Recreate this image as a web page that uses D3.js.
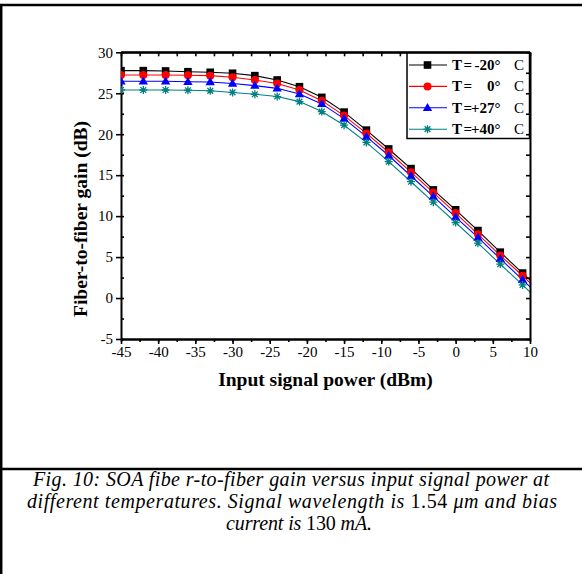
<!DOCTYPE html>
<html><head><meta charset="utf-8">
<script src="https://cdn.jsdelivr.net/npm/d3@7"></script>
<style>body{margin:0;background:#fff} svg{display:block}</style>
</head><body>
<script>
// ---- data ----
const inputPower = [-45,-42,-39,-36,-33,-30,-27,-24,-21,-18,-15,-12,-9,-6,-3,0,3,6,9,12];
const gainM20 = [27.76,27.76,27.72,27.63,27.56,27.44,27.15,26.62,25.8,24.5,22.7,20.5,18.2,15.8,13.2,10.77,8.24,5.6,3.05,0.5];
const gain0   = [27.23,27.23,27.23,27.2,27.15,26.95,26.62,26.2,25.4,24.1,22.27,20.1,17.8,15.37,12.88,10.37,7.8,5.2,2.72,0.15];
const gainP27 = [26.46,26.46,26.46,26.4,26.38,26.2,25.93,25.6,24.9,23.7,21.9,19.7,17.4,14.9,12.4,9.88,7.4,4.8,2.23,-0.35];
const gainP40 = [25.4,25.4,25.4,25.37,25.3,25.1,24.88,24.6,23.98,22.76,21.1,19.0,16.66,14.2,11.7,9.22,6.7,4.15,1.6,-0.95];
const legendTemps = ["-20°","0°","+27°","+40°"];
const xTickLabels = [-45,-40,-35,-30,-25,-20,-15,-10,-5,0,5,10];
const yTickLabels = [-5,0,5,10,15,20,25,30];
const xMinor = d3.range(-45,10.01,2.5);
const yMinor = d3.range(-5,30.01,2.5);

const series = [
  {name:legendTemps[0], values:gainM20, color:"#000000", marker:"square"},
  {name:legendTemps[1], values:gain0,   color:"#ff0000", marker:"circle"},
  {name:legendTemps[2], values:gainP27, color:"#0000ff", marker:"triangle"},
  {name:legendTemps[3], values:gainP40, color:"#008080", marker:"star"}
];

const W=582,H=574;
const svg = d3.select("body").append("svg").attr("width",W).attr("height",H);
const serif = "'Liberation Serif','Times New Roman',serif";

// outer frame
svg.append("line").attr("x1",0).attr("x2",W).attr("y1",5).attr("y2",5).attr("stroke","#000").attr("stroke-width",2.5);
svg.append("line").attr("x1",1.2).attr("x2",1.2).attr("y1",4).attr("y2",H).attr("stroke","#000").attr("stroke-width",2.5);
svg.append("line").attr("x1",0).attr("x2",W).attr("y1",469).attr("y2",469).attr("stroke","#000").attr("stroke-width",2.5);

const x = d3.scaleLinear().domain([-45,10]).range([121,530]);
const y = d3.scaleLinear().domain([-5,30]).range([339,52.3]);
const [x0,x1] = x.range(), [y0,y1] = y.range();

svg.append("defs").append("clipPath").attr("id","plotclip")
  .append("rect").attr("x",x0).attr("y",y1).attr("width",x1-x0).attr("height",y0-y1);

function styleAxis(g, fs){
  g.selectAll(".domain").attr("stroke","#000").attr("stroke-width",2);
  g.selectAll(".tick line").attr("stroke","#000").attr("stroke-width",1.6);
  g.selectAll("text").attr("font-family",serif).attr("font-size",fs).attr("fill","#000");
}
// bottom axis
const gb = svg.append("g").attr("transform",`translate(0,${y0})`)
  .call(d3.axisBottom(x).tickValues(xMinor).tickSize(3).tickSizeOuter(0).tickFormat(""));
styleAxis(gb,15);
const gb2 = svg.append("g").attr("transform",`translate(0,${y0})`)
  .call(d3.axisBottom(x).tickValues(xTickLabels).tickSize(5).tickSizeOuter(0).tickPadding(2).tickFormat(d=>String(d)));
styleAxis(gb2,15);
// top axis
const gt = svg.append("g").attr("transform",`translate(0,${y1})`)
  .call(d3.axisTop(x).tickValues(xMinor).tickSize(-4).tickSizeOuter(0).tickFormat(""));
styleAxis(gt,15);
// left axis
const gl = svg.append("g").attr("transform",`translate(${x0},0)`)
  .call(d3.axisLeft(y).tickValues(yMinor).tickSize(-3).tickSizeOuter(0).tickFormat(""));
styleAxis(gl,15);
const gl2 = svg.append("g").attr("transform",`translate(${x0},0)`)
  .call(d3.axisLeft(y).tickValues(yTickLabels).tickSize(5).tickSizeOuter(0).tickPadding(3).tickFormat(d=>String(d)));
styleAxis(gl2,15);
gl2.select(".domain").remove();

// series lines and markers
const plot = svg.append("g").attr("clip-path","url(#plotclip)");
const line = d3.line().x((d,i)=>x(inputPower[i])).y(d=>y(d));
const starPath = r => `M${-r},0L${r},0M0,${-r}L0,${r}M${-r*0.72},${-r*0.72}L${r*0.72},${r*0.72}M${-r*0.72},${r*0.72}L${r*0.72},${-r*0.72}`;
function drawMarker(g, type, color){
  if(type==="square") g.append("rect").attr("x",-3.8).attr("y",-3.8).attr("width",7.6).attr("height",7.6).attr("fill",color);
  else if(type==="circle") g.append("circle").attr("r",4).attr("fill",color);
  else if(type==="triangle") g.append("path").attr("d",d3.symbol(d3.symbolTriangle,38)()).attr("transform","translate(0,0.5)").attr("fill",color);
  else g.append("path").attr("d",starPath(4)).attr("stroke",color).attr("stroke-width",1.3).attr("fill","none");
}
series.forEach(s=>{
  plot.append("path").datum(s.values).attr("d",line).attr("fill","none").attr("stroke",s.color).attr("stroke-width",1.1);
});
series.forEach(s=>{
  s.values.forEach((v,i)=>{
    const g = plot.append("g").attr("transform",`translate(${x(inputPower[i])},${y(v)})`);
    drawMarker(g,s.marker,s.color);
  });
});

// legend
const lg = svg.append("g");
lg.append("rect").attr("x",407).attr("y",53).attr("width",122.5).attr("height",85.5)
  .attr("fill","#fff").attr("stroke","#000").attr("stroke-width",1.5);
series.forEach((s,i)=>{
  const cy = 65 + i*21.4;
  lg.append("line").attr("x1",409).attr("x2",447).attr("y1",cy).attr("y2",cy).attr("stroke",s.color).attr("stroke-width",1.1);
  drawMarker(lg.append("g").attr("transform",`translate(427.5,${cy})`), s.marker, s.color);
  const t = lg.append("g").attr("font-family",serif).attr("font-size",15).attr("font-weight","bold");
  t.append("text").attr("x",452).attr("y",cy+5).text("T");
  t.append("text").attr("x",463.5).attr("y",cy+5).text("=");
  t.append("text").attr("x",500.5).attr("y",cy+5).attr("text-anchor","end").text(s.name);
  lg.append("text").attr("x",514).attr("y",cy+5).attr("font-family",serif).attr("font-size",15).text("C");
});

// right axis (over legend)
const gr = svg.append("g").attr("transform",`translate(${x1},0)`)
  .call(d3.axisRight(y).tickValues(yMinor).tickSize(-4).tickSizeOuter(0).tickFormat(""));
styleAxis(gr,15);
svg.append("line").attr("x1",x0).attr("x2",x1).attr("y1",y1).attr("y2",y1).attr("stroke","#000").attr("stroke-width",2);

// axis titles
svg.append("text").attr("x",(x0+x1)/2).attr("y",386).attr("text-anchor","middle")
  .attr("font-family",serif).attr("font-size",19.5).attr("font-weight","bold").text("Input signal power (dBm)");
svg.append("text").attr("transform","translate(87,219) rotate(-90)").attr("text-anchor","middle")
  .attr("font-family",serif).attr("font-size",19.5).attr("font-weight","bold").text("Fiber-to-fiber gain (dB)");

// caption
const cap = svg.append("g").attr("font-family",serif).attr("font-size",20).attr("font-style","italic").attr("text-anchor","middle").attr("fill","#000").style("white-space","pre");
cap.append("text").attr("x",291).attr("y",486).attr("textLength",516).attr("lengthAdjust","spacing")
  .text("Fig. 10: SOA fibe r-to-fiber gain versus input signal power at");
const t2 = cap.append("text").attr("x",292).attr("y",508).attr("textLength",530).attr("lengthAdjust","spacing");
t2.append("tspan").text("different temperatures. Signal wavelength is ");
t2.append("tspan").attr("font-style","normal").text("1.54 ");
t2.append("tspan").text("μm and bias");
const t3 = cap.append("text").attr("x",299).attr("y",530).attr("textLength",146).attr("lengthAdjust","spacing");
t3.append("tspan").text("current is  ");
t3.append("tspan").attr("font-style","normal").text("130 ");
t3.append("tspan").text("mA.");
</script>
</body></html>
